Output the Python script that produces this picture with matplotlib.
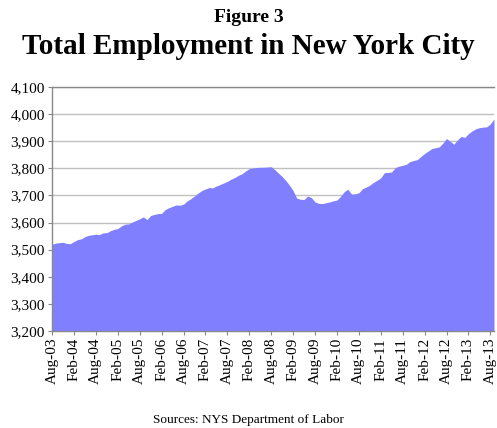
import numpy as np
import pandas as pd
import matplotlib
matplotlib.use("Agg")
import matplotlib.pyplot as plt

plt.rcParams['font.family'] = ['Liberation Serif', 'DejaVu Serif']

# monthly total employment (thousands), Aug-03 .. Sep-13
months = pd.date_range("2003-08-01", "2013-09-01", freq="MS")
employment = [
    3520, 3524, 3526, 3527, 3523, 3522, 3530, 3537, 3540, 3548, 3553, 3555,
    3557, 3556, 3562, 3563, 3570, 3575, 3578, 3588, 3594, 3595, 3602, 3608,
    3614, 3621, 3611, 3626, 3630, 3633, 3634, 3648, 3655, 3660, 3665, 3664,
    3668, 3680, 3688, 3698, 3709, 3718, 3724, 3729, 3728, 3735, 3740, 3746,
    3752, 3760, 3766, 3774, 3780, 3790, 3799, 3801, 3803, 3804, 3804, 3805,
    3806, 3795, 3782, 3770, 3755, 3738, 3718, 3690, 3686, 3685, 3698, 3692,
    3676, 3671, 3670, 3673, 3676, 3680, 3683, 3697, 3714, 3723, 3705, 3706,
    3710, 3725, 3731, 3738, 3748, 3756, 3765, 3784, 3785, 3787, 3803, 3808,
    3811, 3815, 3825, 3829, 3832, 3844, 3855, 3864, 3873, 3876, 3879, 3893,
    3910, 3900, 3889, 3905, 3918, 3914, 3928, 3938, 3946, 3950, 3952, 3953,
    3964, 3982,
]
labels = [m.strftime("%b-%y") for m in months]
y_ticks = [3200, 3300, 3400, 3500, 3600, 3700, 3800, 3900, 4000, 4100]

fig = plt.figure(figsize=(4.97, 4.28), dpi=100)
ax = fig.add_axes([52 / 497, 0.2266, 442 / 497, 0.5701])

x = np.arange(len(employment))
ax.fill_between(x, 3200, employment, color="#8080FF", linewidth=0, zorder=2)

ax.set_xlim(0, len(employment) - 1)
ax.set_ylim(3200, 4100)
ax.set_yticks(y_ticks)
ax.set_yticklabels([f"{v:,}" for v in y_ticks], fontsize=11)
ax.set_xticks(x[::6])
ax.set_xticklabels(labels[::6], rotation=90, fontsize=11)
ax.tick_params(axis='both', length=3, color="#888888", pad=2)
ax.grid(axis='y', color="#C0C0C0", linewidth=1, zorder=1)
ax.set_axisbelow(True)

ax.spines['right'].set_visible(False)
for side in ['left', 'bottom', 'top']:
    ax.spines[side].set_color("#888888")
    ax.spines[side].set_linewidth(1)

fig.text(0.5, 1 - 18 / 428, "Figure 3", ha='center', va='center',
         fontsize=14, fontweight='bold')
fig.text(0.5, 1 - 47 / 428, "Total Employment in New York City", ha='center',
         va='center', fontsize=21, fontweight='bold')
fig.text(0.5, 1 - 420 / 428, "Sources: NYS Department of Labor", ha='center',
         va='center', fontsize=9.5)

fig.savefig("out.png", dpi=100)
